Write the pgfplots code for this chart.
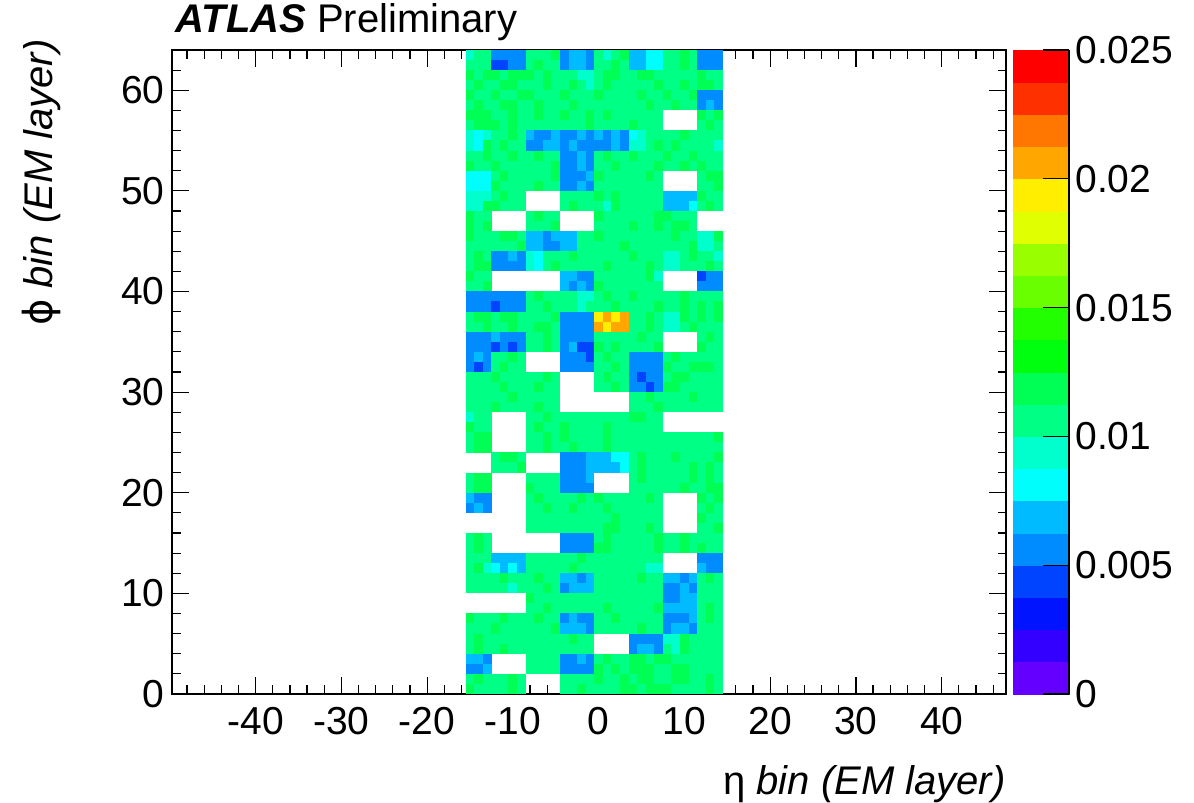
\documentclass[border=0pt]{standalone}
\usepackage{fontspec}
\setmainfont{Liberation Sans}
\newfontfamily\symfont{DejaVu Sans}
\usepackage{pgfplots}
\usepackage{pgfplotstable}
\pgfplotsset{compat=1.18}

\pgfdeclareplotmark{cell}{%
  \pgfpathrectangle{\pgfpoint{-2.2bp}{-2.57bp}}{\pgfpoint{4.4bp}{5.14bp}}%
  \pgfusepathqfill}

% occupancy per (eta bin, phi bin); 0 = empty bin
\pgfplotstableread{
y e0 e1 e2 e3 e4 e5 e6 e7 e8 e9 e10 e11 e12 e13 e14 e15 e16 e17 e18 e19 e20 e21 e22 e23 e24 e25 e26 e27 e28 e29
63.5  0.0094 0.0106 0.0106  0.0056 0.0056 0.0056 0.0056  0.0106 0.0106 0.0106 0.0119  0.0056 0.0069 0.0069 0.0056  0.0106 0.0094 0.0106 0.0119  0.0069 0.0069 0.0081 0.0081  0.0106 0.0106 0.0119 0.0106  0.0056 0.0056 0.0056
62.5  0.0106 0.0106 0.0106  0.0044 0.0044 0.0056 0.0056  0.0106 0.0119 0.0106 0.0106  0.0056 0.0069 0.0069 0.0056  0.0106 0.0106 0.0119 0.0106  0.0069 0.0069 0.0081 0.0081  0.0106 0.0106 0.0119 0.0106  0.0056 0.0056 0.0056
61.5  0.0119 0.0106 0.0119  0.0119 0.0106 0.0119 0.0119  0.0119 0.0106 0.0119 0.0106  0.0106 0.0106 0.0094 0.0094  0.0106 0.0119 0.0119 0.0106  0.0106 0.0119 0.0119 0.0106  0.0106 0.0106 0.0106 0.0106  0.0119 0.0106 0.0106
60.5  0.0106 0.0119 0.0106  0.0106 0.0119 0.0119 0.0106  0.0106 0.0106 0.0119 0.0106  0.0106 0.0119 0.0106 0.0094  0.0106 0.0119 0.0106 0.0106  0.0106 0.0106 0.0106 0.0119  0.0106 0.0106 0.0119 0.0106  0.0119 0.0119 0.0106
59.5  0.0119 0.0106 0.0106  0.0119 0.0106 0.0106 0.0119  0.0119 0.0106 0.0106 0.0106  0.0119 0.0106 0.0106 0.0106  0.0119 0.0106 0.0106 0.0106  0.0106 0.0119 0.0106 0.0106  0.0119 0.0106 0.0106 0.0119  0.0056 0.0056 0.0056
58.5  0.0106 0.0119 0.0106  0.0106 0.0119 0.0119 0.0106  0.0106 0.0119 0.0106 0.0106  0.0106 0.0119 0.0106 0.0106  0.0106 0.0106 0.0106 0.0106  0.0106 0.0106 0.0119 0.0106  0.0106 0.0119 0.0106 0.0106  0.0056 0.0069 0.0056
57.5  0.0119 0.0119 0.0119  0.0106 0.0106 0.0119 0.0106  0.0106 0.0119 0.0106 0.0106  0.0119 0.0106 0.0106 0.0119  0.0106 0.0119 0.0106 0.0106  0.0106 0.0106 0.0106 0.0106  0 0 0 0  0.0119 0.0106 0.0119
56.5  0.0106 0.0119 0.0119  0.0119 0.0106 0.0119 0.0106  0.0106 0.0106 0.0106 0.0106  0.0106 0.0106 0.0106 0.0119  0.0106 0.0106 0.0106 0.0106  0.0119 0.0106 0.0106 0.0106  0 0 0 0  0.0106 0.0119 0.0106
55.5  0.0094 0.0081 0.0094  0.0106 0.0106 0.0119 0.0106  0.0069 0.0056 0.0056 0.0069  0.0056 0.0056 0.0069 0.0056  0.0069 0.0056 0.0069 0.0056  0.0081 0.0094 0.0106 0.0106  0.0106 0.0106 0.0119 0.0106  0.0106 0.0106 0.0106
54.5  0.0094 0.0081 0.0119  0.0106 0.0119 0.0106 0.0106  0.0056 0.0056 0.0069 0.0069  0.0056 0.0069 0.0056 0.0056  0.0056 0.0056 0.0069 0.0056  0.0094 0.0094 0.0106 0.0119  0.0106 0.0119 0.0106 0.0106  0.0106 0.0106 0.0094
53.5  0.0106 0.0106 0.0119  0.0106 0.0106 0.0119 0.0106  0.0106 0.0119 0.0106 0.0106  0.0056 0.0056 0.0069 0.0056  0.0106 0.0119 0.0106 0.0106  0.0119 0.0106 0.0106 0.0106  0.0119 0.0106 0.0106 0.0119  0.0106 0.0106 0.0106
52.5  0.0119 0.0106 0.0106  0.0119 0.0106 0.0106 0.0106  0.0106 0.0106 0.0106 0.0119  0.0056 0.0056 0.0069 0.0056  0.0106 0.0106 0.0119 0.0106  0.0106 0.0106 0.0106 0.0119  0.0106 0.0106 0.0119 0.0106  0.0119 0.0106 0.0106
51.5  0.0081 0.0081 0.0081  0.0106 0.0119 0.0106 0.0106  0.0106 0.0106 0.0106 0.0119  0.0056 0.0056 0.0056 0.0069  0.0119 0.0106 0.0106 0.0106  0.0106 0.0106 0.0119 0.0106  0 0 0 0  0.0106 0.0119 0.0119
50.5  0.0081 0.0081 0.0081  0.0119 0.0106 0.0106 0.0106  0.0106 0.0119 0.0106 0.0106  0.0056 0.0056 0.0069 0.0056  0.0106 0.0106 0.0106 0.0106  0.0106 0.0106 0.0106 0.0106  0 0 0 0  0.0106 0.0106 0.0119
49.5  0.0094 0.0094 0.0094  0.0106 0.0119 0.0106 0.0106  0 0 0 0  0.0106 0.0106 0.0106 0.0106  0.0119 0.0106 0.0119 0.0106  0.0106 0.0106 0.0106 0.0106  0.0069 0.0069 0.0069 0.0069  0.0119 0.0106 0.0106
48.5  0.0094 0.0094 0.0119  0.0119 0.0106 0.0106 0.0106  0 0 0 0  0.0106 0.0119 0.0106 0.0106  0.0106 0.0094 0.0119 0.0106  0.0106 0.0106 0.0106 0.0106  0.0069 0.0069 0.0069 0.0081  0.0106 0.0119 0.0106
47.5  0.0119 0.0106 0.0106  0 0 0 0  0.0106 0.0119 0.0106 0.0106  0 0 0 0  0.0119 0.0106 0.0106 0.0106  0.0106 0.0106 0.0106 0.0119  0.0119 0.0106 0.0106 0.0106  0 0 0
46.5  0.0119 0.0106 0.0119  0 0 0 0  0.0106 0.0106 0.0106 0.0119  0 0 0 0  0.0106 0.0106 0.0106 0.0106  0.0119 0.0106 0.0106 0.0119  0.0106 0.0119 0.0119 0.0106  0 0 0
45.5  0.0119 0.0106 0.0106  0.0106 0.0119 0.0119 0.0106  0.0069 0.0069 0.0056 0.0069  0.0069 0.0069 0.0106 0.0106  0.0119 0.0106 0.0106 0.0106  0.0106 0.0106 0.0106 0.0106  0.0106 0.0119 0.0106 0.0106  0.0094 0.0094 0.0119
44.5  0.0106 0.0106 0.0106  0.0106 0.0106 0.0106 0.0119  0.0069 0.0069 0.0056 0.0056  0.0069 0.0069 0.0106 0.0106  0.0106 0.0106 0.0106 0.0119  0.0106 0.0106 0.0106 0.0106  0.0106 0.0106 0.0106 0.0119  0.0094 0.0094 0.0106
43.5  0.0106 0.0119 0.0106  0.0056 0.0056 0.0069 0.0056  0.0094 0.0081 0.0106 0.0106  0.0106 0.0119 0.0106 0.0106  0.0106 0.0106 0.0106 0.0106  0.0119 0.0106 0.0106 0.0106  0.0094 0.0094 0.0106 0.0119  0.0106 0.0106 0.0094
42.5  0.0106 0.0119 0.0119  0.0056 0.0056 0.0056 0.0056  0.0094 0.0081 0.0106 0.0119  0.0106 0.0106 0.0106 0.0106  0.0106 0.0119 0.0106 0.0106  0.0106 0.0106 0.0119 0.0106  0.0094 0.0094 0.0106 0.0106  0.0106 0.0119 0.0106
41.5  0.0119 0.0106 0.0106  0 0 0 0  0 0 0 0  0.0069 0.0069 0.0056 0.0056  0.0106 0.0106 0.0106 0.0106  0.0106 0.0106 0.0119 0.0094  0 0 0 0  0.0044 0.0056 0.0056
40.5  0.0106 0.0106 0.0119  0 0 0 0  0 0 0 0  0.0069 0.0056 0.0069 0.0056  0.0119 0.0106 0.0106 0.0106  0.0106 0.0106 0.0106 0.0106  0 0 0 0  0.0056 0.0056 0.0056
39.5  0.0056 0.0056 0.0056  0.0056 0.0056 0.0056 0.0056  0.0106 0.0119 0.0106 0.0106  0.0106 0.0106 0.0094 0.0094  0.0106 0.0119 0.0106 0.0106  0.0119 0.0106 0.0106 0.0106  0.0106 0.0106 0.0119 0.0106  0.0106 0.0106 0.0106
38.5  0.0056 0.0056 0.0056  0.0044 0.0056 0.0056 0.0056  0.0106 0.0106 0.0119 0.0106  0.0106 0.0106 0.0094 0.0106  0.0106 0.0106 0.0119 0.0106  0.0106 0.0106 0.0106 0.0119  0.0106 0.0106 0.0119 0.0106  0.0119 0.0106 0.0119
37.5  0.0106 0.0119 0.0119  0.0106 0.0119 0.0119 0.0106  0.0106 0.0106 0.0106 0.0119  0.0056 0.0056 0.0056 0.0056  0.0194 0.0206 0.0194 0.0206  0.0106 0.0106 0.0119 0.0106  0.0094 0.0094 0.0119 0.0106  0.0119 0.0106 0.0119
36.5  0.0106 0.0106 0.0119  0.0106 0.0106 0.0119 0.0106  0.0106 0.0119 0.0119 0.0106  0.0056 0.0056 0.0056 0.0056  0.0206 0.0194 0.0206 0.0206  0.0106 0.0106 0.0119 0.0106  0.0094 0.0094 0.0106 0.0119  0.0106 0.0106 0.0106
35.5  0.0056 0.0056 0.0056  0.0069 0.0056 0.0056 0.0056  0.0106 0.0106 0.0119 0.0106  0.0056 0.0056 0.0056 0.0056  0.0106 0.0106 0.0106 0.0106  0.0106 0.0119 0.0106 0.0106  0 0 0 0  0.0106 0.0119 0.0106
34.5  0.0056 0.0056 0.0056  0.0044 0.0056 0.0044 0.0056  0.0106 0.0106 0.0119 0.0106  0.0056 0.0069 0.0044 0.0044  0.0119 0.0106 0.0119 0.0106  0.0106 0.0106 0.0106 0.0119  0 0 0 0  0.0119 0.0106 0.0106
33.5  0.0056 0.0069 0.0056  0.0106 0.0106 0.0119 0.0106  0 0 0 0  0.0056 0.0056 0.0056 0.0044  0.0106 0.0119 0.0106 0.0106  0.0056 0.0056 0.0056 0.0056  0.0106 0.0119 0.0106 0.0106  0.0106 0.0106 0.0106
32.5  0.0056 0.0044 0.0056  0.0106 0.0119 0.0106 0.0106  0 0 0 0  0.0056 0.0056 0.0056 0.0056  0.0106 0.0106 0.0119 0.0106  0.0056 0.0056 0.0056 0.0056  0.0119 0.0106 0.0106 0.0119  0.0119 0.0119 0.0106
31.5  0.0106 0.0106 0.0106  0.0119 0.0106 0.0106 0.0106  0.0106 0.0106 0.0119 0.0106  0 0 0 0  0.0106 0.0119 0.0106 0.0106  0.0056 0.0044 0.0056 0.0056  0.0106 0.0119 0.0119 0.0106  0.0106 0.0106 0.0106
30.5  0.0106 0.0106 0.0106  0.0106 0.0119 0.0106 0.0106  0.0106 0.0119 0.0106 0.0106  0 0 0 0  0.0106 0.0106 0.0119 0.0106  0.0056 0.0056 0.0044 0.0056  0.0119 0.0119 0.0106 0.0106  0.0106 0.0106 0.0106
29.5  0.0106 0.0106 0.0106  0.0106 0.0106 0.0119 0.0106  0.0106 0.0106 0.0106 0.0106  0 0 0 0  0 0 0 0  0.0106 0.0106 0.0119 0.0106  0.0106 0.0106 0.0106 0.0119  0.0106 0.0106 0.0106
28.5  0.0106 0.0106 0.0106  0.0119 0.0106 0.0106 0.0106  0.0106 0.0119 0.0106 0.0106  0 0 0 0  0 0 0 0  0.0106 0.0106 0.0106 0.0119  0.0106 0.0106 0.0106 0.0106  0.0106 0.0106 0.0106
27.5  0.0094 0.0106 0.0106  0 0 0 0  0.0106 0.0106 0.0119 0.0106  0.0106 0.0106 0.0106 0.0106  0.0106 0.0106 0.0106 0.0106  0.0119 0.0119 0.0106 0.0106  0 0 0 0  0 0 0
26.5  0.0119 0.0106 0.0106  0 0 0 0  0.0106 0.0119 0.0106 0.0106  0.0119 0.0106 0.0106 0.0106  0.0106 0.0119 0.0106 0.0106  0.0106 0.0106 0.0106 0.0106  0 0 0 0  0 0 0
25.5  0.0106 0.0119 0.0119  0 0 0 0  0.0106 0.0106 0.0119 0.0106  0.0119 0.0106 0.0106 0.0106  0.0106 0.0119 0.0106 0.0106  0.0106 0.0106 0.0106 0.0106  0.0106 0.0106 0.0106 0.0106  0.0106 0.0106 0.0119
24.5  0.0106 0.0119 0.0119  0 0 0 0  0.0106 0.0106 0.0119 0.0106  0.0106 0.0119 0.0106 0.0106  0.0106 0.0119 0.0106 0.0106  0.0106 0.0106 0.0106 0.0106  0.0106 0.0106 0.0106 0.0106  0.0106 0.0106 0.0106
23.5  0 0 0  0.0106 0.0119 0.0119 0.0106  0 0 0 0  0.0056 0.0056 0.0056 0.0069  0.0069 0.0069 0.0081 0.0081  0.0106 0.0119 0.0106 0.0106  0.0106 0.0119 0.0106 0.0106  0.0106 0.0106 0.0119
22.5  0 0 0  0.0106 0.0106 0.0106 0.0119  0 0 0 0  0.0056 0.0056 0.0056 0.0069  0.0069 0.0069 0.0069 0.0081  0.0106 0.0119 0.0106 0.0106  0.0106 0.0106 0.0106 0.0119  0.0106 0.0119 0.0106
21.5  0.0106 0.0119 0.0119  0 0 0 0  0.0106 0.0106 0.0106 0.0106  0.0056 0.0056 0.0056 0.0069  0 0 0 0  0.0106 0.0119 0.0106 0.0106  0.0106 0.0106 0.0106 0.0119  0.0106 0.0119 0.0106
20.5  0.0106 0.0119 0.0119  0 0 0 0  0.0119 0.0106 0.0106 0.0106  0.0056 0.0056 0.0056 0.0056  0 0 0 0  0.0106 0.0106 0.0106 0.0106  0.0106 0.0106 0.0119 0.0106  0.0106 0.0119 0.0119
19.5  0.0069 0.0056 0.0056  0 0 0 0  0.0106 0.0119 0.0106 0.0106  0.0106 0.0106 0.0119 0.0106  0.0119 0.0106 0.0106 0.0106  0.0106 0.0106 0.0119 0.0106  0 0 0 0  0.0119 0.0106 0.0119
18.5  0.0056 0.0069 0.0056  0 0 0 0  0.0106 0.0106 0.0119 0.0106  0.0106 0.0119 0.0106 0.0106  0.0106 0.0119 0.0106 0.0106  0.0106 0.0106 0.0106 0.0106  0 0 0 0  0.0106 0.0119 0.0106
17.5  0 0 0  0 0 0 0  0.0106 0.0106 0.0106 0.0106  0.0106 0.0106 0.0106 0.0106  0.0106 0.0106 0.0119 0.0106  0.0106 0.0106 0.0106 0.0106  0 0 0 0  0.0119 0.0106 0.0106
16.5  0 0 0  0 0 0 0  0.0106 0.0106 0.0106 0.0106  0.0106 0.0106 0.0106 0.0106  0.0106 0.0119 0.0119 0.0106  0.0106 0.0106 0.0119 0.0106  0 0 0 0  0.0106 0.0106 0.0119
15.5  0.0106 0.0119 0.0106  0 0 0 0  0 0 0 0  0.0056 0.0056 0.0056 0.0056  0.0106 0.0119 0.0106 0.0106  0.0106 0.0106 0.0106 0.0119  0.0106 0.0106 0.0119 0.0106  0.0106 0.0106 0.0106
14.5  0.0106 0.0119 0.0106  0 0 0 0  0 0 0 0  0.0056 0.0056 0.0056 0.0056  0.0119 0.0119 0.0106 0.0106  0.0106 0.0106 0.0106 0.0119  0.0106 0.0106 0.0119 0.0106  0.0119 0.0106 0.0106
13.5  0.0106 0.0106 0.0106  0.0069 0.0069 0.0069 0.0069  0.0106 0.0106 0.0106 0.0106  0.0106 0.0106 0.0119 0.0106  0.0106 0.0106 0.0106 0.0106  0.0106 0.0106 0.0106 0.0106  0 0 0 0  0.0056 0.0056 0.0056
12.5  0.0106 0.0119 0.0094  0.0081 0.0069 0.0081 0.0069  0.0106 0.0106 0.0106 0.0106  0.0106 0.0119 0.0106 0.0106  0.0106 0.0106 0.0106 0.0106  0.0106 0.0106 0.0094 0.0094  0 0 0 0  0.0069 0.0056 0.0056
11.5  0.0106 0.0106 0.0106  0.0106 0.0119 0.0106 0.0106  0.0106 0.0119 0.0106 0.0106  0.0069 0.0069 0.0056 0.0069  0.0106 0.0106 0.0106 0.0106  0.0106 0.0119 0.0106 0.0106  0.0069 0.0069 0.0056 0.0069  0.0106 0.0119 0.0106
10.5  0.0106 0.0106 0.0106  0.0106 0.0106 0.0094 0.0106  0.0106 0.0106 0.0119 0.0106  0.0056 0.0069 0.0069 0.0069  0.0106 0.0106 0.0106 0.0106  0.0106 0.0106 0.0106 0.0106  0.0056 0.0056 0.0069 0.0056  0.0106 0.0106 0.0106
9.5  0 0 0  0 0 0 0  0.0119 0.0106 0.0106 0.0106  0.0106 0.0106 0.0106 0.0106  0.0106 0.0106 0.0106 0.0106  0.0106 0.0106 0.0106 0.0106  0.0056 0.0056 0.0069 0.0069  0.0106 0.0106 0.0106
8.5  0 0 0  0 0 0 0  0.0106 0.0106 0.0119 0.0106  0.0106 0.0106 0.0106 0.0106  0.0106 0.0119 0.0106 0.0106  0.0106 0.0106 0.0106 0.0119  0.0069 0.0069 0.0069 0.0069  0.0106 0.0119 0.0106
7.5  0.0119 0.0106 0.0106  0.0106 0.0119 0.0106 0.0106  0.0106 0.0119 0.0106 0.0106  0.0056 0.0069 0.0056 0.0056  0.0106 0.0106 0.0119 0.0106  0.0106 0.0106 0.0106 0.0106  0.0056 0.0056 0.0056 0.0069  0.0106 0.0119 0.0106
6.5  0.0106 0.0106 0.0106  0.0119 0.0106 0.0106 0.0106  0.0106 0.0106 0.0106 0.0119  0.0069 0.0069 0.0069 0.0056  0.0106 0.0106 0.0106 0.0106  0.0106 0.0119 0.0106 0.0106  0.0056 0.0069 0.0069 0.0056  0.0106 0.0106 0.0106
5.5  0.0106 0.0119 0.0106  0.0106 0.0106 0.0106 0.0106  0.0106 0.0106 0.0106 0.0106  0.0106 0.0119 0.0106 0.0106  0 0 0 0  0.0056 0.0056 0.0056 0.0056  0.0094 0.0094 0.0119 0.0106  0.0106 0.0106 0.0106
4.5  0.0106 0.0119 0.0106  0.0106 0.0119 0.0106 0.0106  0.0106 0.0106 0.0106 0.0106  0.0106 0.0106 0.0106 0.0106  0 0 0 0  0.0056 0.0069 0.0069 0.0056  0.0106 0.0094 0.0119 0.0106  0.0106 0.0106 0.0106
3.5  0.0069 0.0069 0.0056  0 0 0 0  0.0106 0.0106 0.0106 0.0106  0.0056 0.0056 0.0069 0.0056  0.0106 0.0119 0.0106 0.0106  0.0119 0.0119 0.0106 0.0119  0.0119 0.0106 0.0106 0.0106  0.0106 0.0106 0.0106
2.5  0.0056 0.0056 0.0069  0 0 0 0  0.0106 0.0106 0.0106 0.0106  0.0056 0.0056 0.0056 0.0056  0.0119 0.0106 0.0119 0.0106  0.0119 0.0119 0.0119 0.0106  0.0106 0.0119 0.0119 0.0106  0.0106 0.0106 0.0106
1.5  0.0106 0.0119 0.0106  0.0106 0.0106 0.0119 0.0106  0 0 0 0  0.0106 0.0106 0.0106 0.0106  0.0119 0.0106 0.0106 0.0119  0.0106 0.0119 0.0119 0.0106  0.0106 0.0119 0.0119 0.0106  0.0106 0.0119 0.0106
0.5  0.0119 0.0106 0.0106  0.0106 0.0106 0.0119 0.0106  0 0 0 0  0.0106 0.0106 0.0119 0.0106  0.0106 0.0106 0.0106 0.0119  0.0119 0.0106 0.0119 0.0119  0.0119 0.0106 0.0106 0.0106  0.0106 0.0119 0.0106
}\hmap

\begin{document}
\begin{tikzpicture}
\useasboundingbox (0,0) rectangle (597bp,401.5bp);
\begin{axis}[
  at={(86bp,54.5bp)}, anchor=south west,
  scale only axis, width=417bp, height=322bp,
  xmin=-49.75, xmax=47.5, ymin=0, ymax=64,
  axis on top,
  xtick={-40,-30,-20,-10,0,10,20,30,40},
  xticklabels={-40,-30,-20,-10,0,10,20,30,40},
  ytick={0,10,20,30,40,50,60},
  yticklabels={0,10,20,30,40,50,60},
  minor xtick={-48,-46,...,46},
  minor ytick={2,4,...,62},
  tick pos=both, tick align=inside,
  major tick length=8.5bp, minor tick length=4.25bp,
  tick style={black, line width=0.6bp},
  axis line style={black, line width=0.6bp},
  tick label style={font=\fontsize{19.5bp}{22bp}\selectfont, inner sep=0pt},
  xticklabel style={anchor=north, yshift=-6.5bp},
  yticklabel style={anchor=east, xshift=-3.5bp},
  xlabel={η \textit{bin (EM layer)}},
  ylabel={{\symfont ϕ} \textit{bin (EM layer)}},
  label style={font=\fontsize{20bp}{24bp}\selectfont, inner sep=0pt},
  xlabel style={at={(axis description cs:1,-0.1553)}, anchor=base east},
  ylabel style={at={(axis description cs:-0.1427,1.017)}, anchor=base east},
  title={\textbf{\textit{ATLAS}} Preliminary},
  title style={at={(axis description cs:0.004,1.008)}, anchor=base west,
    font=\fontsize{20bp}{24bp}\selectfont, inner sep=0pt},
  point meta min=0, point meta max=0.025,
  colormap={root}{rgb255=(99,0,255) rgb255=(51,0,255) rgb255=(0,20,255)
    rgb255=(0,68,255) rgb255=(0,139,255) rgb255=(0,187,255) rgb255=(0,255,252)
    rgb255=(0,255,204) rgb255=(0,255,133) rgb255=(0,255,85) rgb255=(0,255,14)
    rgb255=(34,255,0) rgb255=(105,255,0) rgb255=(153,255,0) rgb255=(224,255,0)
    rgb255=(255,238,0) rgb255=(255,167,0) rgb255=(255,119,0) rgb255=(255,48,0)
    rgb255=(255,0,0)},
  colormap access=piecewise constant,
  colorbar,
  colorbar style={
    at={(parent axis.north east)}, anchor=north west, xshift=-5bp,
    scale only axis, width=28bp, height=322bp,
    ytick={0,0.005,0.01,0.015,0.02,0.025},
    yticklabels={0,0.005,0.01,0.015,0.02,0.025},
    scaled y ticks=false,
    yticklabel pos=right,
    tick align=inside,
    major tick length=13bp,
    minor tick num=0,
    tick style={black, line width=0.6bp},
    axis line style={black, line width=0.6bp},
    yticklabel style={anchor=west, xshift=3bp, inner sep=0pt,
      font=\fontsize{19.5bp}{22bp}\selectfont},
    axis x line=none, axis y line*=right,
  },
  filter discard warning=false,
]
\pgfplotsinvokeforeach{0,...,29}{
  \addplot[scatter, only marks, mark=cell, point meta=explicit,
    restrict expr to domain={\thisrow{e#1}}{0.001:1}]
    table[x expr={#1-15}, y=y, meta=e#1] {\hmap};
}
\end{axis}
\end{tikzpicture}
\end{document}
